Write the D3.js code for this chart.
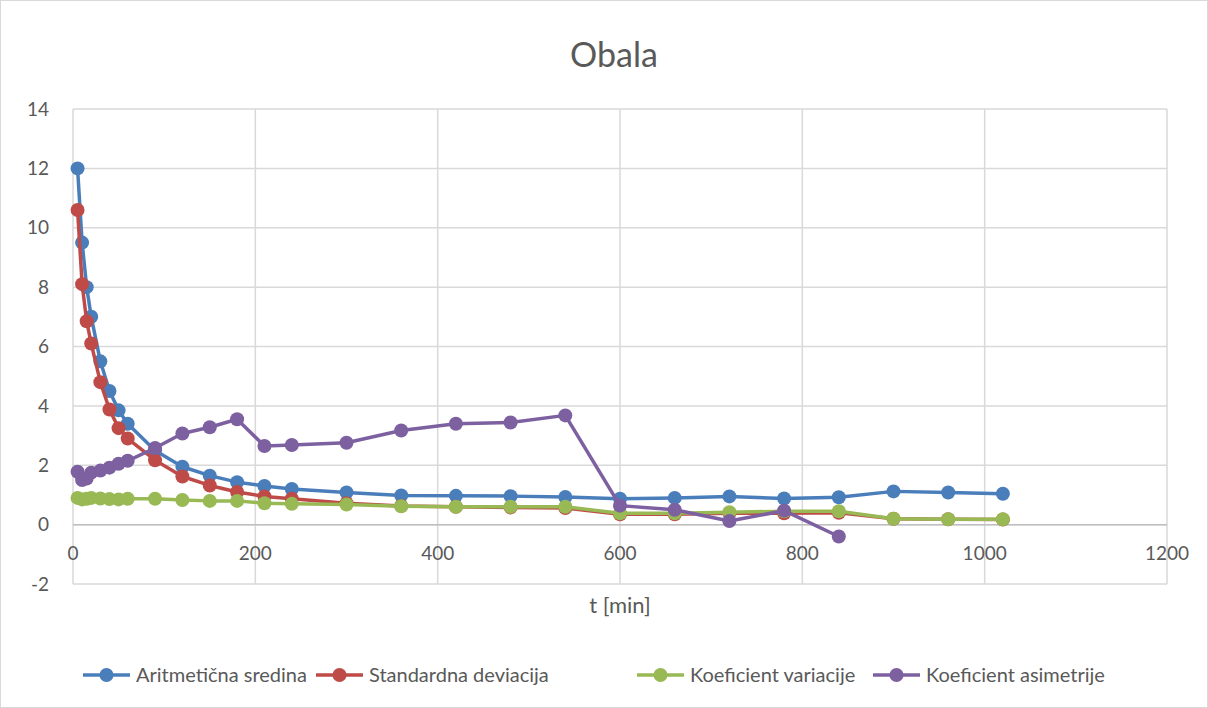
<!DOCTYPE html>
<html>
<head>
<meta charset="utf-8">
<script src="https://cdn.jsdelivr.net/npm/d3@7"></script>
<style>
  html, body { margin: 0; padding: 0; background: #fff; }
  svg { display: block; font-family: Lato, "Open Sans", "Liberation Sans", sans-serif; }
</style>
</head>
<body>
<svg id="chart" width="1208" height="708"></svg>
<script>
const title = "Obala";
const xLabel = "t [min]";
const times = [5, 10, 15, 20, 30, 40, 50, 60, 90, 120, 150, 180, 210, 240, 300, 360, 420, 480, 540, 600, 660, 720, 780, 840, 900, 960, 1020];
const seriesNames = ["Aritmetična sredina", "Standardna deviacija", "Koeficient variacije", "Koeficient asimetrije"];
const seriesColors = ["#4a7ebb", "#be4b48", "#98b954", "#7d60a0"];
const aritmeticna = [12.0, 9.5, 8.0, 7.0, 5.5, 4.5, 3.85, 3.4, 2.5, 1.95, 1.65, 1.43, 1.3, 1.2, 1.08, 0.98, 0.97, 0.96, 0.93, 0.87, 0.9, 0.95, 0.88, 0.92, 1.12, 1.08, 1.04];
const standardna = [10.6, 8.1, 6.85, 6.1, 4.8, 3.88, 3.25, 2.9, 2.17, 1.62, 1.32, 1.1, 0.95, 0.87, 0.72, 0.63, 0.6, 0.58, 0.56, 0.35, 0.35, 0.38, 0.38, 0.4, 0.2, 0.18, 0.17];
const variacije = [0.9, 0.85, 0.87, 0.9, 0.88, 0.86, 0.85, 0.87, 0.87, 0.83, 0.8, 0.8, 0.72, 0.7, 0.68, 0.62, 0.6, 0.6, 0.6, 0.38, 0.38, 0.42, 0.45, 0.45, 0.2, 0.18, 0.18];
const asimetrije = [1.78, 1.5, 1.55, 1.75, 1.82, 1.92, 2.05, 2.15, 2.58, 3.07, 3.28, 3.55, 2.65, 2.68, 2.76, 3.17, 3.4, 3.44, 3.68, 0.64, 0.5, 0.12, 0.47, -0.4];
const xTicks = [0, 200, 400, 600, 800, 1000, 1200];
const yTicks = [-2, 0, 2, 4, 6, 8, 10, 12, 14];

const allSeries = [aritmeticna, standardna, variacije, asimetrije];

const svg = d3.select("#chart");
const W = 1208, H = 708;
const m = { left: 73, right: 41, top: 109, bottom: 124 };

svg.append("rect").attr("x", 0.5).attr("y", 0.5).attr("width", W - 1).attr("height", H - 1)
  .attr("fill", "#fff").attr("stroke", "#d9d9d9");

const x = d3.scaleLinear().domain([0, 1200]).range([m.left, W - m.right]);
const y = d3.scaleLinear().domain([-2, 14]).range([H - m.bottom, m.top]);

// gridlines
const grid = svg.append("g");
grid.selectAll("line.h").data(yTicks).join("line")
  .attr("x1", x(0)).attr("x2", x(1200))
  .attr("y1", d => y(d)).attr("y2", d => y(d))
  .attr("stroke", "#d9d9d9").attr("stroke-width", 1.5);
grid.selectAll("line.v").data(xTicks).join("line")
  .attr("x1", d => x(d)).attr("x2", d => x(d))
  .attr("y1", y(14)).attr("y2", y(-2))
  .attr("stroke", "#d9d9d9").attr("stroke-width", 1.5);

// zero axis line
svg.append("line").attr("x1", x(0)).attr("x2", x(1200)).attr("y1", y(0)).attr("y2", y(0))
  .attr("stroke", "#bfbfbf").attr("stroke-width", 1.5);

// y tick labels
svg.append("g").selectAll("text").data(yTicks).join("text")
  .attr("x", x(0) - 24).attr("y", d => y(d)).attr("dy", "0.35em")
  .attr("text-anchor", "end").attr("fill", "#595959").attr("font-size", 19)
  .text(d => d);

// x tick labels
svg.append("g").selectAll("text").data(xTicks).join("text")
  .attr("x", d => x(d)).attr("y", y(0) + 29).attr("dy", "0.35em")
  .attr("text-anchor", "middle").attr("fill", "#595959").attr("font-size", 19)
  .text(d => d);

// title
svg.append("text").attr("x", W / 2 + 10).attr("y", 55).attr("dy", "0.35em")
  .attr("text-anchor", "middle").attr("fill", "#595959").attr("font-size", 34)
  .text(title);

// x axis label
svg.append("text").attr("x", x(600)).attr("y", 605).attr("dy", "0.35em")
  .attr("text-anchor", "middle").attr("fill", "#595959").attr("font-size", 22)
  .text(xLabel);

// series
const line = d3.line().x(d => x(d[0])).y(d => y(d[1]));
allSeries.forEach((vals, i) => {
  const pts = vals.map((v, j) => [times[j], v]);
  const g = svg.append("g");
  g.append("path").datum(pts).attr("d", line)
    .attr("fill", "none").attr("stroke", seriesColors[i]).attr("stroke-width", 3.5)
    .attr("stroke-linejoin", "round");
  g.selectAll("circle").data(pts).join("circle")
    .attr("cx", d => x(d[0])).attr("cy", d => y(d[1])).attr("r", 7)
    .attr("fill", seriesColors[i]);
});

// legend
const legendX = [83, 316, 637, 873];
const lg = svg.append("g");
seriesNames.forEach((name, i) => {
  const lx = legendX[i], ly = 675;
  lg.append("line").attr("x1", lx).attr("x2", lx + 47).attr("y1", ly).attr("y2", ly)
    .attr("stroke", seriesColors[i]).attr("stroke-width", 3.5);
  lg.append("circle").attr("cx", lx + 23.5).attr("cy", ly).attr("r", 7).attr("fill", seriesColors[i]);
  lg.append("text").attr("x", lx + 53).attr("y", ly).attr("dy", "0.35em")
    .attr("fill", "#595959").attr("font-size", 20).text(name);
});
</script>
</body>
</html>
